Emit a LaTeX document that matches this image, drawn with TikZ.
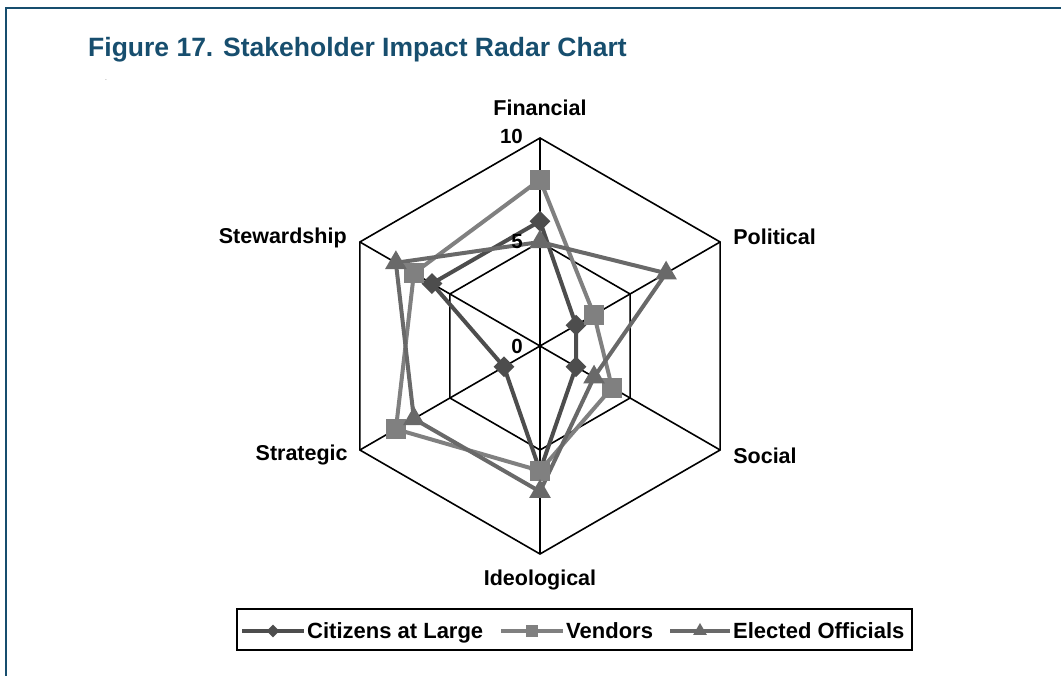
\documentclass[tikz,border=0pt]{standalone}
\usepackage{fontspec}
\setmainfont{Liberation Sans}
\usepackage{xcolor}
\usetikzlibrary{positioning, shapes.geometric, calc}

\definecolor{framecol}{RGB}{23,78,110}
\definecolor{citcol}{RGB}{77,77,77}
\definecolor{vencol}{RGB}{128,128,128}
\definecolor{elecol}{RGB}{105,105,105}

\begin{document}
\begin{tikzpicture}[x=1pt, y=1pt,
        grid/.style={draw=black, line width=1.6pt},
        axislabel/.style={font=\fontsize{21.5}{24}\selectfont\bfseries, inner sep=0pt},
        ticklabel/.style={font=\fontsize{20.5}{22}\selectfont\bfseries, inner sep=0pt},
        legtext/.style={font=\fontsize{22}{24}\selectfont\bfseries, inner sep=0pt, anchor=base west},
        series/.style={line width=4pt, line join=round},
        diam/.style={diamond, fill=citcol, inner sep=0pt, minimum size=21pt},
        sq/.style={rectangle, fill=vencol, inner sep=0pt, minimum size=20pt},
        tri/.style={regular polygon, regular polygon sides=3, fill=elecol, inner sep=0pt, minimum size=25pt},
    ]
    \useasboundingbox (0,0) rectangle (1061,676);

    % frame and title
    \draw[framecol, line width=2pt] (6,0) -- (6,668) -- (1061,668);
    \node[anchor=base west, inner sep=0pt, text=framecol,
          font=\fontsize{26.5}{30}\selectfont\bfseries] (title) at (88,619)
        {Figure 17. Stakeholder Impact Radar Chart};
    \node[font=\fontsize{5}{6}\selectfont, inner sep=0pt] (stray) at (106,596) {.};

    % grid
    \coordinate (ctr) at (540,330);
    \begin{scope}[shift={(ctr)}]
        \foreach \k in {0,...,5} {
            \coordinate (ax\k) at ({90-60*\k}:208);
            \coordinate (mid\k) at ({90-60*\k}:104);
        }
        \draw[grid] (ax0) -- (ax1) -- (ax2) -- (ax3) -- (ax4) -- (ax5) -- cycle;
        \draw[grid] (mid0) -- (mid1) -- (mid2) -- (mid3) -- (mid4) -- (mid5) -- cycle;
        \foreach \k in {0,...,5} \draw[grid] (ctr) -- (ax\k);

        % data
        \foreach \v [count=\k from 0] in {6,2,2,6,2,6}
            \coordinate (cit\k) at ({90-60*\k}:{\v*20.8});
        \foreach \v [count=\k from 0] in {8,3,4,6,8,7}
            \coordinate (ven\k) at ({90-60*\k}:{\v*20.8});
        \foreach \v [count=\k from 0] in {5,7,3,7,7,8}
            \coordinate (ele\k) at ({90-60*\k}:{\v*20.8});
    \end{scope}

    \draw[series, citcol] (cit0) -- (cit1) -- (cit2) -- (cit3) -- (cit4) -- (cit5) -- cycle;
    \draw[series, vencol] (ven0) -- (ven1) -- (ven2) -- (ven3) -- (ven4) -- (ven5) -- cycle;
    \draw[series, elecol] (ele0) -- (ele1) -- (ele2) -- (ele3) -- (ele4) -- (ele5) -- cycle;
    \foreach \k in {0,...,5} \node[diam] (citm\k) at (cit\k) {};
    \foreach \k in {0,...,5} \node[sq] (venm\k) at (ven\k) {};
    \foreach \k in {0,...,5} \node[tri] (elem\k) at (ele\k) {};

    % axis and tick labels
    \node[axislabel, above=22pt of ax0] (financial) {Financial};
    \node[axislabel, anchor=west, xshift=13pt, yshift=5pt] (political) at (ax1) {Political};
    \node[axislabel, anchor=west, xshift=13pt, yshift=-6pt] (social) at (ax2) {Social};
    \node[axislabel, below=16pt of ax3] (ideological) {Ideological};
    \node[axislabel, anchor=east, xshift=-12pt, yshift=-5pt] (strategic) at (ax4) {Strategic};
    \node[axislabel, anchor=east, xshift=-13pt, yshift=4pt] (stewardship) at (ax5) {Stewardship};
    \node[ticklabel, anchor=east, xshift=-17pt, yshift=2pt] (t10) at (ax0) {10};
    \node[ticklabel, anchor=east, xshift=-17pt] (t5) at (mid0) {5};
    \node[ticklabel, anchor=east, xshift=-17pt] (t0) at (ctr) {0};

    % legend
    \draw[black, line width=1.6pt] (237,26) rectangle (912,67);
    \coordinate (l1a) at (242,45); \coordinate (l1b) at (304,45);
    \coordinate (l2a) at (501,45); \coordinate (l2b) at (563,45);
    \coordinate (l3a) at (670,45); \coordinate (l3b) at (730,45);
    \draw[series, line width=3.5pt, citcol] (l1a) -- (l1b);
    \draw[series, line width=3.5pt, vencol] (l2a) -- (l2b);
    \draw[series, line width=3.5pt, elecol] (l3a) -- (l3b);
    \node[diam, minimum size=13pt] (k1) at ($(l1a)!0.5!(l1b)$) {};
    \node[sq, minimum size=12pt] (k2) at ($(l2a)!0.5!(l2b)$) {};
    \node[tri, minimum size=16pt] (k3) at ($(l3a)!0.5!(l3b)$) {};
    \node[legtext] (cit) at ([xshift=3pt, yshift=-8pt]l1b) {Citizens at Large};
    \node[legtext] (ven) at ([xshift=3pt, yshift=-8pt]l2b) {Vendors};
    \node[legtext] (ele) at ([xshift=3pt, yshift=-8pt]l3b) {Elected Officials};
\end{tikzpicture}
\end{document}
